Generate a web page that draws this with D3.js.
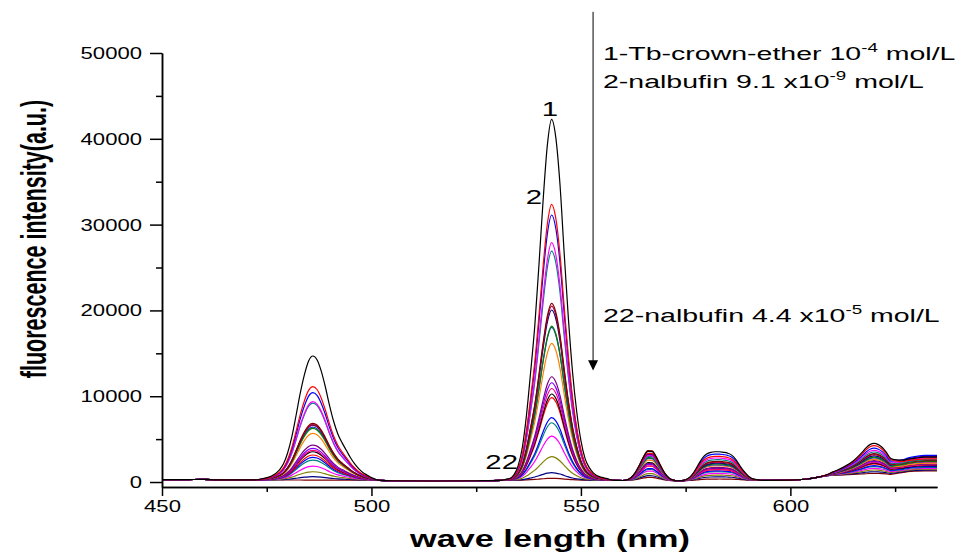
<!DOCTYPE html>
<html>
<head>
<meta charset="utf-8">
<script src="https://cdn.jsdelivr.net/npm/d3@7"></script>
<style>
    body { margin: 0; background: #fff; }
    text { font-family: "Liberation Sans", Arial, sans-serif; fill: #000; }
</style>
</head>
<body>
<div id="chart"></div>
<script>
// ---- data ----

// one colour per spectrum, spectrum 1 (no nalbufin) first, 22 last
var seriesColors = ["#000000", "#ff0000", "#0000ff", "#ff00ff", "#008080", "#800000", "#c00040", "#000080",
    "#008000", "#1f3fbf", "#ff8000", "#800080", "#8000ff", "#ff0080", "#000000", "#ff0000",
    "#0000ff", "#008080", "#ff00ff", "#808000", "#000080", "#800000"];

// peak intensities of each band, per spectrum
var peak486 = [14690, 11110, 10410, 9360, 9200, 6840, 6700, 6640, 6250, 6400, 5670,
    4310, 3930, 3700, 3530, 3150, 2880, 2560, 1860, 1200, 620, 230];
var peak543 = [42270, 32360, 31120, 27890, 26920, 20830, 20510, 20050, 18180, 18030, 16160,
    12270, 11570, 10900, 10260, 9830, 7500, 6910, 5360, 2950, 1090, 430];
var peak566 = [3650, 3400, 3350, 3150, 3050, 3730, 3300, 3200, 2900, 2800, 2600,
    2200, 2100, 1900, 2300, 1900, 1600, 1500, 1300, 1000, 750, 550];
var peak583 = [3530, 3000, 3250, 2800, 2600, 2400, 2300, 2200, 2100, 2000, 1900,
    1700, 1650, 1500, 1600, 1450, 1300, 1200, 1000, 800, 600, 350];
var peak620 = [4510, 4250, 3950, 3700, 3500, 3300, 3200, 3050, 2900, 2800, 2650,
    2500, 2400, 2300, 2200, 2100, 1900, 1800, 1600, 1400, 1200, 1000];
var tail635 = [2900, 2700, 3100, 2800, 2600, 2500, 2900, 3000, 2400, 2600, 2200,
    2100, 2300, 2000, 1900, 2000, 1800, 1700, 1600, 1500, 1400, 1300];

// common background under all spectra
var baseWl  = [450, 455, 460, 463, 470, 476, 500, 505, 515, 525, 532, 556, 560, 573, 575, 592, 600, 604, 607, 610, 635];
var baseVal = [280, 270, 320, 260, 240, 240, 220, 150, 120, 150, 200, 200, 180, 150, 160, 200, 220, 350, 600, 780, 800];

var band486Wl    = [472, 474, 476, 478, 479, 480, 481, 482, 483, 484, 485, 486, 487, 488, 489, 490, 491, 492, 493, 494, 495, 496, 497, 498, 499, 500, 502];
var band486Shape = [0, 0.01, 0.03, 0.08, 0.13, 0.22, 0.35, 0.52, 0.70, 0.85, 0.96, 1, 0.97, 0.88, 0.75, 0.60, 0.47, 0.37, 0.30, 0.24, 0.18, 0.13, 0.09, 0.06, 0.04, 0.02, 0];
var band543Wl    = [531, 533, 534, 535, 536, 537, 538, 539, 540, 541, 542, 543, 544, 545, 546, 547, 548, 549, 550, 551, 552, 553, 555, 558];
var band543Shape = [0, 0.005, 0.015, 0.04, 0.09, 0.18, 0.30, 0.43, 0.60, 0.78, 0.93, 1, 0.95, 0.82, 0.63, 0.45, 0.30, 0.19, 0.11, 0.06, 0.035, 0.02, 0.008, 0];
var band566Wl    = [560, 561, 562, 563, 564, 565, 566, 567, 568, 569, 570, 571, 572, 573];
var band566Shape = [0, 0.02, 0.10, 0.27, 0.52, 0.80, 0.98, 0.97, 0.78, 0.50, 0.25, 0.09, 0.02, 0];
var band583Wl    = [574, 575, 576, 577, 578, 579, 580, 581, 582, 583, 584, 585, 586, 587, 588, 589, 590, 591, 593];
var band583Shape = [0, 0.03, 0.12, 0.30, 0.55, 0.78, 0.92, 0.98, 1, 1, 0.98, 0.95, 0.88, 0.72, 0.50, 0.30, 0.14, 0.05, 0];
var band620Wl    = [607, 609, 611, 613, 615, 617, 618, 619, 620, 621, 622, 623, 624, 625, 626, 627, 628, 630];
var band620Shape = [0, 0.05, 0.15, 0.28, 0.45, 0.70, 0.85, 0.96, 1, 0.96, 0.86, 0.70, 0.52, 0.36, 0.22, 0.12, 0.05, 0];
var tailWl       = [624, 626, 628, 630, 632, 635];
var tailShape    = [0, 0.45, 0.80, 0.95, 1, 1];

// axes
var xTicks = [450, 500, 550, 600];
var xMinorTicks = [475, 525, 575, 625];
var yTicks = [0, 10000, 20000, 30000, 40000, 50000];
var yMinorTicks = [5000, 15000, 25000, 35000, 45000];

// annotation texts: [label, superscript, tail]
var noteLines = [
    ["1-Tb-crown-ether 10", "-4", " mol/L"],
    ["2-nalbufin 9.1 x10", "-9", " mol/L"],
    ["22-nalbufin 4.4 x10", "-5", " mol/L"]
];
var curveLabels = ["1", "2", "22"];

// ---- chart ----
var width = 967, height = 554;
var stretch = 1.5;   // the source picture is stretched sideways

var svg = d3.select("#chart").append("svg")
    .attr("width", width)
    .attr("height", height);

var x = d3.scaleLinear().domain([450, 635]).range([162, 937]);
var y = d3.scaleLinear().domain([-580, 50000]).range([487, 53]);

var base = d3.scaleLinear().domain(baseWl).range(baseVal).clamp(true);

var bands = [
    { wl: band486Wl, shape: band486Shape, peaks: peak486, at: 486 },
    { wl: band543Wl, shape: band543Shape, peaks: peak543, at: 543 },
    { wl: band566Wl, shape: band566Shape, peaks: peak566, at: 566 },
    { wl: band583Wl, shape: band583Shape, peaks: peak583, at: 583 },
    { wl: band620Wl, shape: band620Shape, peaks: peak620, at: 620 },
    { wl: tailWl, shape: tailShape, peaks: tail635, at: 635 }
];
bands.forEach(function (b) {
    b.scale = d3.scaleLinear().domain(b.wl).range(b.shape).clamp(true);
});

var allWl = d3.sort(d3.union(baseWl, band486Wl, band543Wl, band566Wl, band583Wl, band620Wl, tailWl));

var spectra = seriesColors.map(function (color, i) {
    var pts = allWl.map(function (w) {
        var v = base(w);
        bands.forEach(function (b) {
            v += (b.peaks[i] - base(b.at)) * b.scale(w);
        });
        return [w, v];
    });
    return { color: color, points: pts };
});

var line = d3.line()
    .x(d => x(d[0]))
    .y(d => y(d[1]))
    .curve(d3.curveMonotoneX);

// draw the last spectrum first so curve 1 ends up on top
svg.append("g").selectAll("path")
    .data(spectra.slice().reverse())
    .enter()
    .append("path")
    .attr("d", d => line(d.points))
    .attr("fill", "none")
    .attr("stroke", d => d.color)
    .attr("stroke-width", 1.2);

// x axis
var xAxis = svg.append("g")
    .attr("transform", "translate(0," + 487 + ")")
    .call(d3.axisBottom(x).tickValues(xTicks).tickSize(9).tickSizeOuter(0).tickPadding(4).tickFormat(d3.format("d")));
svg.append("g")
    .attr("transform", "translate(0," + 487 + ")")
    .call(d3.axisBottom(x).tickValues(xMinorTicks).tickSize(5).tickSizeOuter(0).tickFormat(""));

// y axis
var yAxis = svg.append("g")
    .attr("transform", "translate(" + 162 + ",0)")
    .call(d3.axisLeft(y).tickValues(yTicks).tickSize(12).tickSizeOuter(0).tickFormat(d3.format("d")));
svg.append("g")
    .attr("transform", "translate(" + 162 + ",0)")
    .call(d3.axisLeft(y).tickValues(yMinorTicks).tickSize(6).tickSizeOuter(0).tickFormat(""));

svg.selectAll(".domain, .tick line")
    .attr("stroke", "#000")
    .attr("stroke-width", 1.5);

xAxis.selectAll("text")
    .style("font-size", "17px")
    .attr("transform", "scale(1.3,1)");
yAxis.selectAll("text")
    .style("font-size", "17px")
    .attr("x", -20 / 1.3)
    .attr("transform", "scale(1.3,1)");

// axis titles
svg.append("text")
    .attr("transform", "translate(550,547) scale(1.4,1)")
    .attr("text-anchor", "middle")
    .style("font-size", "24.5px")
    .style("font-weight", "bold")
    .text("wave length (nm)");

svg.append("text")
    .attr("transform", "translate(46,239) scale(1.6,1) rotate(-90)")
    .attr("text-anchor", "middle")
    .style("font-size", "21.5px")
    .style("font-weight", "bold")
    .text("fluorescence intensity(a.u.)");

// arrow from the legend text down to the falling peak
var arrowX = x(552.9);
svg.append("line")
    .attr("x1", arrowX).attr("x2", arrowX)
    .attr("y1", y(54800)).attr("y2", y(14000))
    .attr("stroke", "#000")
    .attr("stroke-width", 1);
svg.append("path")
    .attr("d", d3.line()([[arrowX - 5, y(14200)], [arrowX + 5, y(14200)], [arrowX, y(13000)]]))
    .attr("fill", "#000");

// notes
var noteBaselines = [60, 88, 322];
noteLines.forEach(function (n, i) {
    var t = svg.append("text")
        .attr("transform", "translate(603," + noteBaselines[i] + ") scale(" + stretch + ",1)")
        .style("font-size", "19px");
    t.append("tspan").text(n[0]);
    t.append("tspan").attr("dy", -8).style("font-size", "12.5px").text(n[1]);
    t.append("tspan").attr("dy", 8).text(n[2]);
});

// curve numbers
var labelPos = [[550, 116, "middle"], [542, 204, "end"], [518, 469, "end"]];
curveLabels.forEach(function (c, i) {
    svg.append("text")
        .attr("transform", "translate(" + labelPos[i][0] + "," + labelPos[i][1] + ") scale(1.4,1)")
        .attr("text-anchor", labelPos[i][2])
        .style("font-size", "21px")
        .text(c);
});
</script>
</body>
</html>
